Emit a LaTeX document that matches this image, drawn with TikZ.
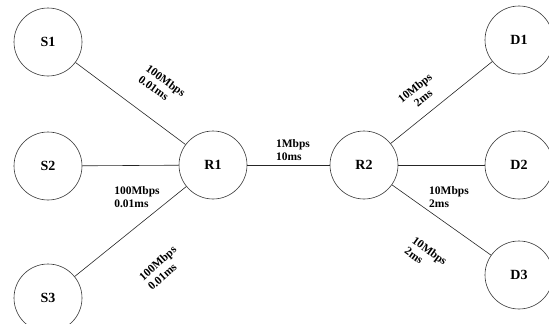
\documentclass[tikz,border=0pt]{standalone}
\usepackage{fontspec}
\setmainfont{Liberation Serif}
\begin{document}
\begin{tikzpicture}[x=1pt,y=-1pt,
  host/.style={circle,draw=black!80,line width=0.6pt,minimum size=68pt,inner sep=0pt,font=\fontsize{14}{16}\selectfont\bfseries},
  link/.style={draw=black!85,line width=0.6pt},
  lab/.style={font=\fontsize{11.5}{13}\selectfont\bfseries,align=left,inner sep=0pt}]
\useasboundingbox (0,0) rectangle (549,324);
\begin{scope}
\clip (0,0) rectangle (549,324);
\node[host] (S1) at (48,42) {S1};
\node[host] (S2) at (48,166) {S2};
\node[host] (S3) at (48,298) {S3};
\node[host] (R1) at (213,165) {R1};
\node[host] (R2) at (364,165) {R2};
\node[host] (D1) at (519,40) {D1};
\node[host] (D2) at (519,165) {D2};
\node[host] (D3) at (519,275) {D3};
\end{scope}
\path[link] (S1) -- (R1);
\path[link] (S2) -- (R1);
\path[link] (S3) -- (R1);
\path[link] (R1) -- (R2);
\path[link] (R2) -- (D1);
\path[link] (R2) -- (D2);
\path[link] (R2) -- (D3);
\node[lab,rotate=-36] (l1) at (162,86) {100Mbps\\0.01ms};
\node[lab] (l2) at (137,197) {100Mbps\\0.01ms};
\node[lab,rotate=42] (l3) at (162,268) {100Mbps\\0.01ms};
\node[lab] (l4) at (293,150) {1Mbps\\10ms};
\node[lab,rotate=39,align=center] (l5) at (419,93) {10Mbps\\2ms};
\node[lab] (l6) at (449,197) {10Mbps\\2ms};
\node[lab,rotate=-36] (l7) at (426,256) {10Mbps\\2ms};
\end{tikzpicture}
\end{document}
